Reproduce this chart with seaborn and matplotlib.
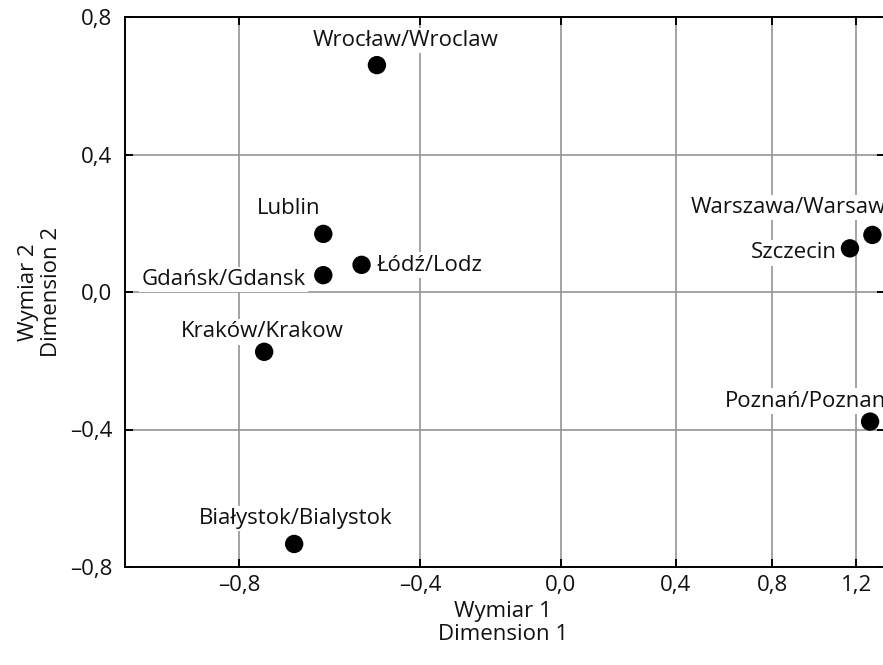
import numpy as np
import pandas as pd
import matplotlib
matplotlib.use("Agg")
import matplotlib.pyplot as plt
import seaborn as sns

# ---- data ----
cities = ["Wrocław/Wroclaw", "Lublin", "Gdańsk/Gdansk", "Łódź/Lodz", "Kraków/Krakow",
          "Białystok/Bialystok", "Warszawa/Warsaw", "Szczecin", "Poznań/Poznan"]
dim1 = [-0.507, -0.629, -0.629, -0.543, -0.752, -0.691, 1.282, 1.167, 1.270]
dim2 = [0.660, 0.169, 0.049, 0.079, -0.174, -0.733, 0.166, 0.127, -0.377]
x_ticks = [-0.8, -0.4, 0.0, 0.4, 0.8, 1.2]
x_tick_labels = ["–0,8", "–0,4", "0,0", "0,4", "0,8", "1,2"]
y_ticks = [-0.8, -0.4, 0.0, 0.4, 0.8]
y_tick_labels = ["–0,8", "–0,4", "0,0", "0,4", "0,8"]
x_label = "Wymiar 1\nDimension 1"
y_label = "Wymiar 2\nDimension 2"

# ---- label layout (pixel offsets, alignment) ----
label_layout = {
    "Wrocław/Wroclaw": (29, 19.3, "center"),
    "Lublin": (-3, 20, "right"),
    "Gdańsk/Gdansk": (-17.6, -10, "right"),
    "Łódź/Lodz": (15, -5.7, "left"),
    "Kraków/Krakow": (-1.5, 14.4, "center"),
    "Białystok/Bialystok": (1.5, 19.7, "center"),
    "Warszawa/Warsaw": (-182, 21.7, "left"),
    "Szczecin": (-13.3, -10, "right"),
    "Poznań/Poznan": (-145, 15, "left"),
}

df = pd.DataFrame({"city": cities, "dim1": dim1, "dim2": dim2})

sns.set_style("white")
plt.rcParams["font.family"] = ["Open Sans", "DejaVu Sans"]
FS = 16

fig = plt.figure(figsize=(8.83, 6.65), dpi=100)
ax = fig.add_axes([124.8 / 883, (665 - 567) / 665, 760.5 / 883, 550 / 665])


def fwd(x):
    return np.log(np.maximum(np.asarray(x, dtype=float) + 2.0, 1e-9))


def inv(y):
    return np.exp(y) - 2.0


ax.set_xscale("function", functions=(fwd, inv))

sns.scatterplot(data=df, x="dim1", y="dim2", color="black", s=175,
                edgecolor="none", linewidth=0, ax=ax, zorder=5, legend=False)

ax.set_xlim(-1.0, 1.35)
ax.set_ylim(-0.8, 0.8)
ax.set_xticks(x_ticks)
ax.set_xticklabels(x_tick_labels)
ax.set_yticks(y_ticks)
ax.set_yticklabels(y_tick_labels)
ax.minorticks_off()

ax.grid(True, color="#959595", linewidth=1.2, zorder=0)
ax.set_axisbelow(True)
for sp in ax.spines.values():
    sp.set_visible(True)
    sp.set_color("black")
    sp.set_linewidth(1.4)

ax.tick_params(axis="both", which="major", direction="in", length=6, width=1.4,
               color="black", labelsize=FS, top=True, right=True,
               bottom=True, left=True, labelcolor="#111111")
ax.tick_params(axis="x", pad=6)
ax.tick_params(axis="y", pad=9)

ax.set_xlabel(x_label, fontsize=FS, color="#111111", linespacing=1.1)
ax.set_ylabel(y_label, fontsize=FS, color="#111111", linespacing=1.1)
ax.xaxis.set_label_coords(0.497, -0.062)
ax.yaxis.set_label_coords(-0.083, 0.5)

for c, x, y in zip(cities, dim1, dim2):
    dx, dy, ha = label_layout[c]
    ax.annotate(c, xy=(x, y), xytext=(dx, dy), textcoords="offset pixels",
                ha=ha, va="baseline", fontsize=FS, color="#111111", zorder=4,
                bbox=dict(boxstyle="square,pad=0.1", facecolor="white", edgecolor="none"))

fig.savefig("out.png", dpi=100)
